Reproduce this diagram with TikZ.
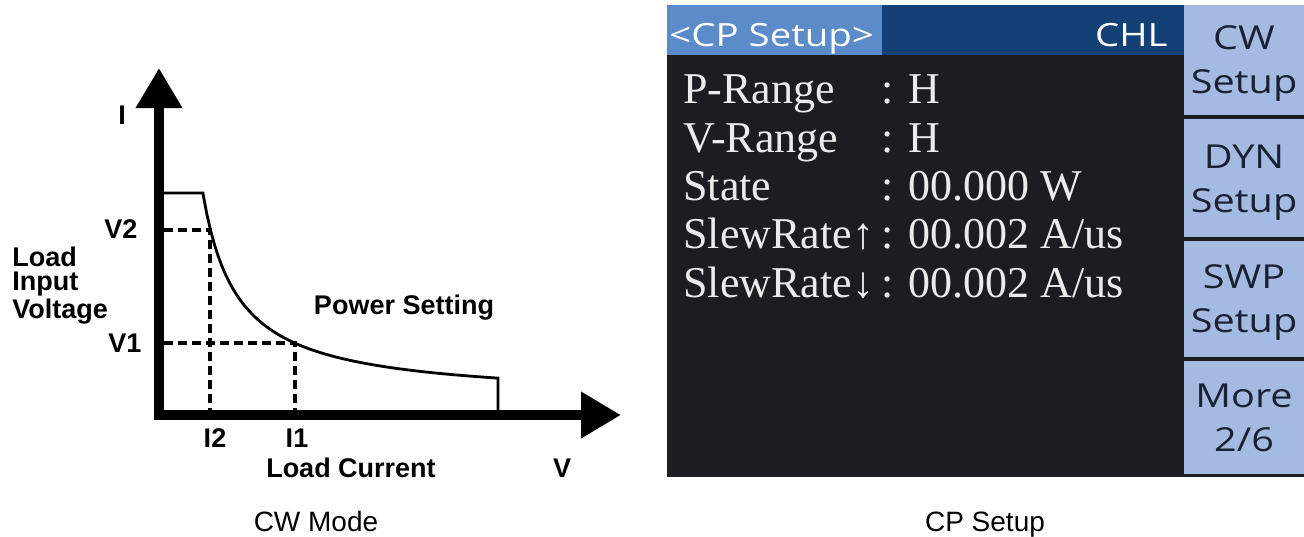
\documentclass[tikz,border=0pt]{standalone}
\usepackage{fontspec}
\setmainfont{Liberation Sans}
\newfontfamily\uifont{Open Sans}[FakeStretch=1.2]
\newfontfamily\lcdfont{Liberation Serif}
\usepackage{xcolor}
\definecolor{lcdlight}{RGB}{92,139,202}
\definecolor{lcdnavy}{RGB}{19,65,117}
\definecolor{lcdblack}{RGB}{29,28,33}
\definecolor{lcdkey}{RGB}{164,186,224}
\definecolor{lcdink}{RGB}{24,34,52}
\definecolor{lcdtext}{RGB}{235,235,235}
\usetikzlibrary{arrows.meta}

\begin{document}
\begin{tikzpicture}[x=0.5pt, y=-0.5pt,
  axis/.style={line width=5pt, line join=miter,
    arrows={Triangle[width=22pt,length=20pt]-Triangle[width=22pt,length=20pt]}},
  curve/.style={line width=1.4pt, line join=miter},
  guide/.style={line width=1.6pt, dash pattern=on 4.5pt off 2.5pt},
  plotlbl/.style={font=\fontsize{13.5}{12}\selectfont\bfseries, inner sep=0pt},
  caption/.style={font=\fontsize{14}{16}\selectfont, inner sep=0pt},
  lcdrow/.style={font=\lcdfont\fontsize{22}{24}\selectfont, text=lcdtext,
    inner sep=0pt, anchor=base west},
  lcdhead/.style={font=\uifont\fontsize{16}{18}\selectfont, text=white, inner sep=0pt},
  softkey/.style={font=\uifont\fontsize{16.5}{22}\selectfont, text=lcdink,
    align=center, inner sep=0pt}]
\useasboundingbox (0,0) rectangle (1304,536);

% --- Left: CW mode curve ---
\draw[axis] (159,68) -- (159,415) -- (621,415);
\draw[curve] (160,193) -- (203,193)
  -- plot[domain=203:498, samples=80] (\x,{400-7221/(\x-168)}) -- (498,413);

% operating points
\draw[guide] (164,230) -- (210,230) -- (210,411);
\draw[guide] (164,343) -- (295,343) -- (295,411);

\node[plotlbl, anchor=base] (ilab) at (122,124) {I};
\node[plotlbl, anchor=base] (vtwo) at (121,238) {V2};
\node[plotlbl, anchor=base] (vone) at (125,352) {V1};
\node[plotlbl, anchor=north west, align=left] (vin) at (12,247) {Load\\Input\\Voltage};
\node[plotlbl, anchor=base] (pset) at (404,314) {Power Setting};
\node[plotlbl, anchor=base] (itwo) at (215,447) {I2};
\node[plotlbl, anchor=base] (ione) at (297,447) {I1};
\node[plotlbl, anchor=base] (iload) at (351,477) {Load Current};
\node[plotlbl, anchor=base] (vlab) at (562,477) {V};
\node[caption, anchor=base] (cwcap) at (316,531) {CW Mode};

% --- Right: CP setup screen ---
\fill[lcdblack] (667,5) rectangle (1304,477);
\fill[lcdlight] (667,5) rectangle (882,55);
\fill[lcdnavy] (882,5) rectangle (1184,55);
\node[lcdhead, anchor=base west] (title) at (669,46) {<CP Setup>};
\node[lcdhead, anchor=base east] (chan) at (1168,46) {CHL};

% parameter list
\node[lcdrow] (prange) at (683,103) {P-Range};
\node[lcdrow] (prangev) at (881,103) {: H};
\node[lcdrow] (vrange) at (683,152) {V-Range};
\node[lcdrow] (vrangev) at (881,152) {: H};
\node[lcdrow] (state) at (683,200) {State};
\node[lcdrow] (statev) at (881,200) {: 00.000 W};
\node[lcdrow] (slewup) at (683,248) {SlewRate↑};
\node[lcdrow] (slewupv) at (881,248) {: 00.002 A/us};
\node[lcdrow] (slewdn) at (683,297) {SlewRate↓};
\node[lcdrow] (slewdnv) at (881,297) {: 00.002 A/us};

% soft keys
\foreach \ya/\yb in {5/115, 119/237, 241/357, 361/474}
  \fill[lcdkey] (1184,\ya) rectangle (1304,\yb);
\node[softkey] (kcw) at (1244,64) {CW\\Setup};
\node[softkey] (kdyn) at (1244,183) {DYN\\Setup};
\node[softkey] (kswp) at (1244,303) {SWP\\Setup};
\node[softkey] (kmore) at (1244,418) {More\\2/6};

\node[caption, anchor=base] (cpcap) at (985,531) {CP Setup};
\end{tikzpicture}
\end{document}
